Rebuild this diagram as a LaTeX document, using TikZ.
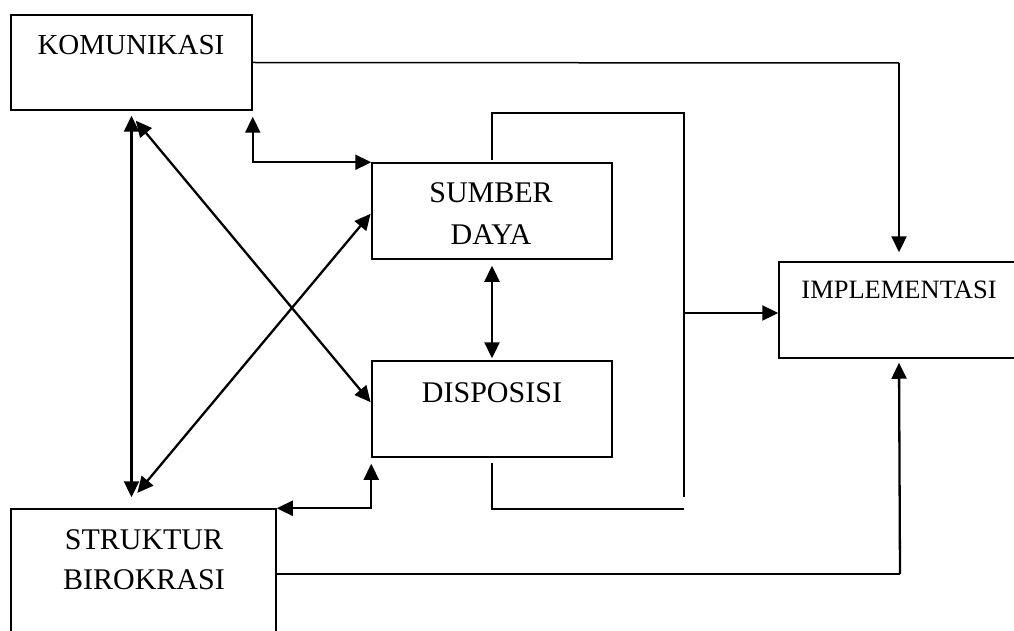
\documentclass[tikz,border=0pt]{standalone}
\usepackage{fontspec}
\setmainfont{Liberation Serif}
\usetikzlibrary{arrows.meta,calc}
\tikzset{
  box/.style={draw, line width=1.5pt, rectangle, inner sep=0pt, minimum width=240pt, minimum height=96pt},
  lbl/.style={anchor=base, inner sep=0pt, font=\fontsize{30}{36}\selectfont},
  plain/.style={line width=1.5pt},
  arr/.style={line width=2.3pt, -{Triangle[length=16pt,width=15pt]}},
  darr/.style={line width=2.3pt, {Triangle[length=16pt,width=15pt]}-{Triangle[length=16pt,width=15pt]}}
}
\begin{document}
\begin{tikzpicture}[x=1pt,y=-1pt]
\useasboundingbox (0,0) rectangle (1014,631);
\clip (0,0) rectangle (1014,631);
\fill[white] (0,0) rectangle (1014,631);
% boxes
\node[box, minimum width=241pt, minimum height=95pt] (kom) at (131.5,62.5) {};
\node[box] (sd) at (492,211) {};
\node[box] (disp) at (492,409) {};
\node[box] (impl) at (899,310) {};
\node[box, minimum width=265pt, minimum height=151pt] (sb) at (143.5,584.5) {};
% labels
\node[lbl, font=\fontsize{29}{34}\selectfont] (tkom) at (131,55) {KOMUNIKASI};
\node[lbl] (tsd1) at (491,203) {SUMBER};
\node[lbl] (tsd2) at (491,244) {DAYA};
\node[lbl] (tdisp) at (492,402) {DISPOSISI};
\node[lbl, font=\fontsize{26.5}{32}\selectfont] (timpl) at (899,298) {IMPLEMENTASI};
\node[lbl] (tsb1) at (144,549) {STRUKTUR};
\node[lbl] (tsb2) at (144,589) {BIROKRASI};
% helper coordinates
\coordinate (kc) at (899,63);
\coordinate (sc) at (900,574);
\coordinate (br1) at (684,113);
\coordinate (br2) at (684,497);
\coordinate (br3) at (684,509);
\coordinate (bm) at (684,313);
% komunikasi -> implementasi
\draw[plain] (kom.east) -- (kc);
\draw[arr, shorten >=9pt] (kc) -- (impl.north);
% struktur -> implementasi
\draw[plain] (sb.east |- sc) -- (sc);
\draw[arr, shorten >=4pt] (sc) -- (impl.south);
% bracket from sumber daya and disposisi
\draw[plain] ([yshift=2pt]sd.north) |- (br1) -- (br2);
\draw[plain] ([yshift=-5pt]disp.south) |- (br3);
\draw[arr] (bm) -- (impl.west |- bm);
% komunikasi <-> sumber daya
\draw[darr, shorten <=6pt] (kom.south east) |- (sd.north west);
% disposisi <-> struktur
\draw[darr, shorten <=6pt] (disp.south west) |- (sb.north east);
% sumber daya <-> disposisi
\draw[darr, shorten <=6pt, shorten >=2pt] (sd.south) -- (disp.north);
% komunikasi <-> struktur
\draw[darr, shorten <=5pt, shorten >=11pt] (kom.south) -- (kom.south |- sb.north);
% diagonals
\draw[darr, shorten <=13pt, shorten >=1pt] ([xshift=-4pt]kom.south) -- ([yshift=6pt]disp.west);
\draw[darr, shorten <=20pt, shorten >=1pt] ([xshift=-19pt]sb.north) -- ([yshift=-2pt]sd.west);
\end{tikzpicture}
\end{document}
